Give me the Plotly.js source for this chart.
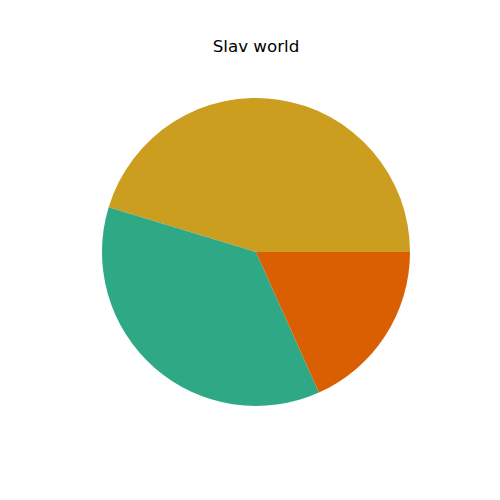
<!DOCTYPE html>
<html>
<head>
<script src="https://cdn.plot.ly/plotly-3.0.1.min.js"></script>
<style>body{margin:0;padding:0;}#chart{width:500px;height:500px;}</style>
</head>
<body>
<div id="chart"></div>
<script>
const categories = ["A", "B", "C"];
const values = [45.3, 36.4, 18.3];
const colors = ["#CC9E1F", "#2FA886", "#D95F02"];

Plotly.newPlot("chart", [{
  type: "pie",
  labels: categories,
  values: values,
  sort: false,
  direction: "counterclockwise",
  rotation: 90 - 360 * 0.453,
  marker: {colors: colors, line: {width: 0}},
  textinfo: "none",
  hoverinfo: "none",
  showlegend: false
}], {
  width: 500,
  height: 500,
  margin: {l: 102, r: 90, t: 98, b: 94},
  paper_bgcolor: "#ffffff",
  title: {text: "Slav world", font: {family: "DejaVu Sans", size: 16.7, color: "#000000"}, x: 0.512, xanchor: "center", y: 0.908, yanchor: "middle"},
  showlegend: false
}, {displayModeBar: false, staticPlot: true});
</script>
</body>
</html>
